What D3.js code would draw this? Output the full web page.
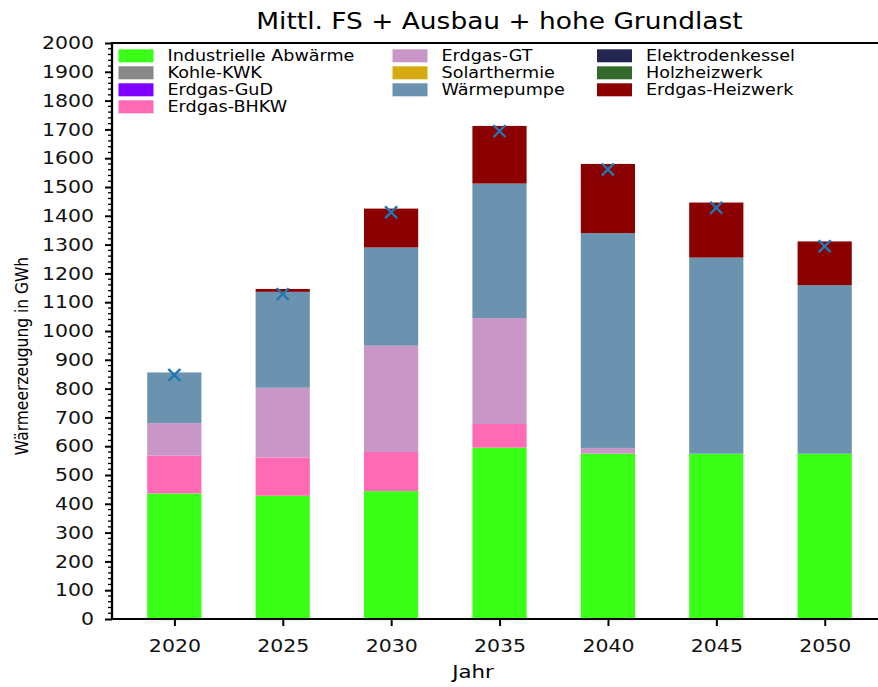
<!DOCTYPE html>
<html>
<head>
<meta charset="utf-8">
<script src="https://cdn.jsdelivr.net/npm/d3@7"></script>
<style>
  body { margin: 0; background: #fff; }
  svg { font-family: "DejaVu Sans", sans-serif; }
</style>
</head>
<body>
<svg id="chart" width="878" height="687"></svg>
<script>
// values (GWh)
const years = ['2020', '2025', '2030', '2035', '2040', '2045', '2050'];
const technologies = ['Industrielle Abwärme', 'Kohle-KWK', 'Erdgas-GuD', 'Erdgas-BHKW',
  'Erdgas-GT', 'Solarthermie', 'Wärmepumpe',
  'Elektrodenkessel', 'Holzheizwerk', 'Erdgas-Heizwerk'];
const colors = ['#3aff17', '#888888', '#8000ff', '#ff6ab4',
  '#c996c8', '#d4aa10', '#6b92af',
  '#232650', '#356a2d', '#8b0000'];

const abwaerme   = [436, 428, 444, 595, 574, 574, 574];
const kohleKwk   = [0, 0, 0, 0, 0, 0, 0];
const gud        = [0, 0, 0, 0, 0, 0, 0];
const bhkw       = [131, 133, 136, 82, 0, 0, 0];
const gt         = [113, 242, 369, 368, 20, 0, 0];
const solar      = [0, 0, 0, 0, 0, 0, 0];
const waermepumpe = [176, 333, 341, 467, 746, 681, 585];
const elektro    = [0, 0, 0, 0, 0, 0, 0];
const holz       = [0, 0, 0, 0, 0, 0, 0];
const heizwerk   = [0, 10, 135, 200, 240, 191, 152];
const bedarf     = [847, 1128, 1412, 1694, 1561, 1428, 1294];

const yTicks = d3.range(0, 2001, 100);

const series = [abwaerme, kohleKwk, gud, bhkw, gt, solar, waermepumpe, elektro, holz, heizwerk];

let rows = years.map((y, i) => {
  let r = { year: y, idx: i };
  technologies.forEach((t, k) => { r[t] = series[k][i]; });
  return r;
});
let stacked = d3.stack().keys(technologies)(rows);

// the original figure looks stretched sideways, so draw into a group scaled in x
const sx = 1.15;
const svg = d3.select('#chart').append('g').attr('transform', `scale(${sx},1)`);
const mLeft = 112 / sx, mRight = 887 / sx, mTop = 43, mBottom = 619;

let x = d3.scaleLinear().domain([-0.575, years.length - 1 + 0.575]).range([mLeft, mRight]);
let y = d3.scaleLinear().domain([0, 2000]).range([mBottom, mTop]);
const barW = x(0.5) - x(0);

// bars
svg.append('g').selectAll('g')
  .data(stacked)
  .join('g')
  .attr('fill', (d, k) => colors[k])
  .selectAll('rect')
  .data(d => d.filter(s => s[1] - s[0] > 0))
  .join('rect')
  .attr('x', d => x(d.data.idx) - barW / 2)
  .attr('width', barW)
  .attr('y', d => y(d[1]))
  .attr('height', d => y(d[0]) - y(d[1]));

// demand markers
const mk = 6;
svg.append('g').selectAll('path')
  .data(bedarf)
  .join('path')
  .attr('d', (d, i) => {
    let cx = x(i), cy = y(d);
    return `M${cx - mk / sx},${cy - mk}L${cx + mk / sx},${cy + mk}M${cx - mk / sx},${cy + mk}L${cx + mk / sx},${cy - mk}`;
  })
  .attr('stroke', '#1f77b4')
  .attr('stroke-width', 2.2)
  .attr('fill', 'none');

// axes
let yAxis = d3.axisLeft(y).tickValues(yTicks).tickFormat(d3.format('d')).tickSize(7 / sx).tickPadding(11 / sx);
let gy = svg.append('g').attr('transform', `translate(${mLeft},0)`).call(yAxis);
gy.selectAll('.tick line').attr('stroke-width', 2);
gy.selectAll('text').attr('font-size', 17.8).attr('fill', '#111').attr('font-family', '"DejaVu Sans"');
gy.select('.domain').remove();

let minor = d3.range(0, 2001, 20).filter(v => v % 100 !== 0);
svg.append('g').selectAll('line')
  .data(minor)
  .join('line')
  .attr('x1', mLeft - 4 / sx).attr('x2', mLeft)
  .attr('y1', d => y(d)).attr('y2', d => y(d))
  .attr('stroke', '#000').attr('stroke-width', 1.3);

let xAxis = d3.axisBottom(x).tickValues(d3.range(years.length)).tickFormat(i => years[i]).tickSize(7).tickPadding(13);
let gx = svg.append('g').attr('transform', `translate(0,${mBottom})`).call(xAxis);
gx.selectAll('.tick line').attr('stroke-width', 2 / sx);
gx.selectAll('text').attr('font-size', 17.8).attr('fill', '#111').attr('font-family', '"DejaVu Sans"');
gx.select('.domain').remove();

// frame
svg.append('rect')
  .attr('x', mLeft).attr('y', mTop)
  .attr('width', mRight - mLeft).attr('height', mBottom - mTop)
  .attr('fill', 'none').attr('stroke', '#000').attr('stroke-width', 2);

// labels
svg.append('text')
  .attr('x', 499.5 / sx).attr('y', 29)
  .attr('text-anchor', 'middle')
  .attr('font-size', 23)
  .text('Mittl. FS + Ausbau + hohe Grundlast');

svg.append('text')
  .attr('x', 473 / sx).attr('y', 678)
  .attr('text-anchor', 'middle')
  .attr('font-size', 18.5)
  .text('Jahr');

svg.append('text')
  .attr('transform', `translate(${28 / sx},${(mTop + mBottom) / 2 + 25}) rotate(-90)`)
  .attr('text-anchor', 'middle')
  .attr('font-size', 15.5)
  .text('Wärmeerzeugung in GWh');

// legend, 3 columns filled top to bottom
const legendCols = [[0, 1, 2, 3], [4, 5, 6], [7, 8, 9]];
const colX = [118.5, 392.5, 597];
let legend = svg.append('g');
legendCols.forEach((col, c) => {
  col.forEach((k, r) => {
    let ly = 49.3 + r * 17;
    legend.append('rect')
      .attr('x', colX[c] / sx).attr('y', ly)
      .attr('width', 35 / sx).attr('height', 13)
      .attr('fill', colors[k]);
    legend.append('text')
      .attr('x', (colX[c] + 49) / sx).attr('y', ly + 12)
      .attr('font-size', 15.3)
      .text(technologies[k]);
  });
});
</script>
</body>
</html>
